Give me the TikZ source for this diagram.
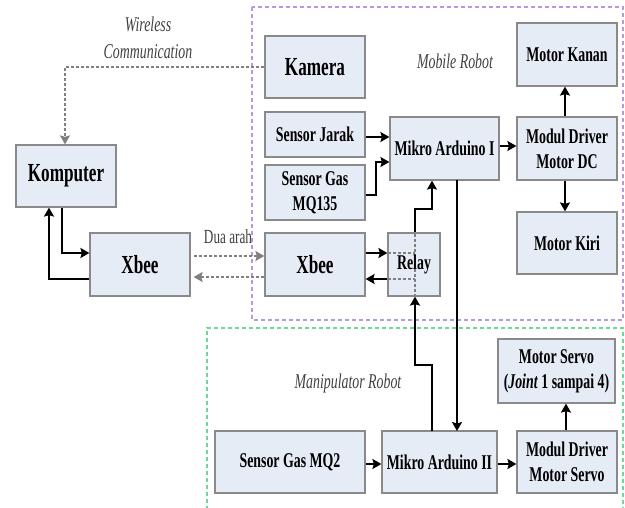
\documentclass[tikz,border=0pt]{standalone}
\usepackage{fontspec}
\setmainfont[FakeStretch=0.66]{Liberation Serif}
\usetikzlibrary{arrows.meta,calc}
\definecolor{boxfill}{HTML}{E6ECF6}
\definecolor{boxline}{HTML}{8A8A8A}
\definecolor{lav}{HTML}{B898DC}
\definecolor{mint}{HTML}{6CD896}
\definecolor{txtgray}{HTML}{404040}
\definecolor{dotgray}{HTML}{808080}
\tikzset{
  blk/.style={draw=boxline, line width=1.2pt, fill=boxfill, inner sep=1pt, align=center,
    font=\bfseries\fontsize{21}{25}\selectfont},
  bigblk/.style={blk, font=\bfseries\fontsize{26}{30}\selectfont},
  conn/.style={line width=2pt, -{Stealth[length=9pt,width=10pt,inset=1.5pt]}},
  dotconn/.style={draw=dotgray, line width=2pt, dash pattern=on 3pt off 2pt,
    -{Stealth[length=9pt,width=10pt,inset=1.5pt]}},
  dotline/.style={draw=dotgray, line width=1.6pt, dash pattern=on 3pt off 2pt},
  lbl/.style={font=\itshape\fontsize{21}{27}\selectfont, text=txtgray, align=center},
}
\begin{document}
\begin{tikzpicture}[x=1pt,y=-1pt]
\useasboundingbox (0,0) rectangle (625,508);
% group frames
\draw[lav, line width=1.2pt, dash pattern=on 4pt off 3pt] (252,7) rectangle (623,320);
\draw[mint, line width=1.2pt, dash pattern=on 4pt off 3pt] (207,510) -- (207,328) -- (623,328) -- (623,510);

% nodes
\node[bigblk, minimum width=100pt, minimum height=62pt] (komp) at (66,176) {Komputer};
\node[bigblk, minimum width=100pt, minimum height=63pt] (xbee1) at (140,264.5) {Xbee};
\node[bigblk, minimum width=100pt, minimum height=62pt] (kamera) at (315,67) {Kamera};
\node[blk, minimum width=100pt, minimum height=45pt] (jarak) at (315,134.5) {Sensor Jarak};
\node[blk, minimum width=100pt, minimum height=55pt] (mq135) at (315,192.5) {Sensor Gas\\MQ135};
\node[bigblk, minimum width=100pt, minimum height=63pt] (xbee2) at (315,264.5) {Xbee};
\node[blk, minimum width=52pt, minimum height=63pt] (relay) at (414,264.5) {};
\node[blk, minimum width=109pt, minimum height=63pt] (mikro1) at (444.5,148.5) {Mikro Arduino I};
\node[blk, minimum width=100pt, minimum height=63pt] (kanan) at (567,54.5) {Motor Kanan};
\node[blk, minimum width=100pt, minimum height=63pt] (drvdc) at (567,148.5) {Modul Driver\\Motor DC};
\node[blk, minimum width=100pt, minimum height=62pt] (kiri) at (567,243) {Motor Kiri};
\node[blk, minimum width=117pt, minimum height=64pt] (servo) at (556.5,371) {Motor Servo\\(\textit{Joint} 1 sampai 4)};
\node[blk, minimum width=150pt, minimum height=62pt] (mq2) at (290,462) {Sensor Gas MQ2};
\node[blk, minimum width=115pt, minimum height=62pt] (mikro2) at (439.5,462) {Mikro Arduino II};
\node[blk, minimum width=100pt, minimum height=62pt] (drvservo) at (567,462) {Modul Driver\\Motor Servo};

% relay internals
\draw[dotline] (388,253) -- (415,253);
\draw[dotline] (388,279) -- (415,279);
\draw[dotline] (415,234) -- (415,295);
\node[font=\bfseries\fontsize{21}{25}\selectfont] (relaytxt) at (414,264.5) {Relay};

% labels
\node[lbl] (wl) at (148,38) {Wireless\\Communication};
\node[lbl] (mob) at (455,61) {Mobile Robot};
\node[lbl] (man) at (348,383) {Manipulator Robot};
\node[font=\fontsize{20}{24}\selectfont, text=txtgray] (dua) at (228,237) {Dua arah};

% wireless dotted
\coordinate (wc) at (65,67);
\draw[dotconn] (kamera.west) -- (wc) -- ($(komp.north)+(-1,0)$);

% komputer <-> xbee1
\draw[conn] ($(komp.south)+(-4,0)$) |- ($(xbee1.west)+(0,-11.5)$);
\draw[conn] ($(xbee1.west)+(0,14.5)$) -| ($(komp.south)+(-17,0)$);

% xbee1 <-> xbee2 dotted
\draw[dotconn] ($(xbee1.east)+(3,-8.5)$) -- ($(xbee2.west)+(0,-8.5)$);
\draw[dotconn] ($(xbee2.west)+(0,12.5)$) -- ($(xbee1.east)+(3,12.5)$);

% xbee2 <-> relay
\draw[conn] ($(xbee2.east)+(0,-11.5)$) -- ($(relay.west)+(0,-11.5)$);
\draw[conn] ($(relay.west)+(0,14.5)$) -- ($(xbee2.east)+(0,14.5)$);

% relay -> mikro1
\coordinate (r1) at (415,209);
\coordinate (r2) at (432,209);
\draw[conn] ($(relay.north)+(1,0)$) -- (r1) -- (r2) -- (r2 |- mikro1.south);

% sensors -> mikro1
\draw[conn] ($(jarak.east)+(0,2.5)$) -- ($(mikro1.west)+(0,-11.5)$);
\coordinate (s1) at (376,195);
\draw[conn] ($(mq135.east)+(0,2.5)$) -- (s1) |- ($(mikro1.west)+(0,13.5)$);

% mikro1 -> driver dc -> motors
\draw[conn] ($(mikro1.east)+(0,-2.5)$) -- ($(drvdc.west)+(0,-2.5)$);
\draw[conn] ($(drvdc.north)+(-2,0)$) -- ($(kanan.south)+(-2,0)$);
\draw[conn] ($(drvdc.south)+(-2,0)$) -- ($(kiri.north)+(-2,0)$);

% mikro1 -> mikro2
\draw[conn] (457,180) -- (457,431);

% mikro2 -> relay
\coordinate (m1) at (432,365);
\coordinate (m2) at (415,365);
\draw[conn] (432,431) -- (m1) -- (m2) -- ($(relay.south)+(1,0)$);

% manipulator chain
\draw[conn] ($(mq2.east)+(0,2)$) -- ($(mikro2.west)+(0,2)$);
\draw[conn] ($(mikro2.east)+(0,2)$) -- ($(drvservo.west)+(0,2)$);
\draw[conn] ($(drvservo.north)+(-1,0)$) -- ($(servo.south)+(9.5,0)$);
\end{tikzpicture}
\end{document}
